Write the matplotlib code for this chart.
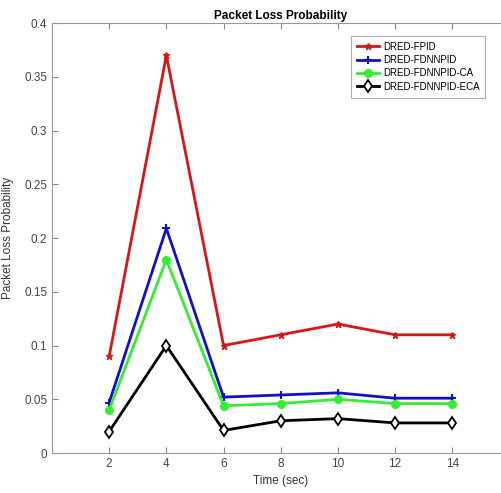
import matplotlib
matplotlib.use('Agg')
from matplotlib import pyplot as plt

time = [2, 4, 6, 8, 10, 12, 14]
fpid = [0.09, 0.37, 0.10, 0.11, 0.12, 0.11, 0.11]
fdnnpid = [0.047, 0.209, 0.052, 0.054, 0.056, 0.051, 0.051]
fdnnpid_ca = [0.040, 0.180, 0.044, 0.046, 0.050, 0.046, 0.046]
fdnnpid_eca = [0.020, 0.100, 0.021, 0.030, 0.032, 0.028, 0.028]

yticks = [0, 0.05, 0.1, 0.15, 0.2, 0.25, 0.3, 0.35, 0.4]
ytick_labels = ['0', '0.05', '0.1', '0.15', '0.2', '0.25', '0.3', '0.35', '0.4']

plt.rcParams['font.family'] = ['Liberation Sans', 'DejaVu Sans']

fig = plt.figure(figsize=(5.01, 4.93), dpi=100)
ax = fig.add_axes([0.1038, 0.0811, 0.913, 0.872])

ax.plot(time, fpid, color='#d91515', lw=2, marker='*', ms=5, label='DRED-FPID')
ax.plot(time, fdnnpid, color='#1010c8', lw=2, marker='+', ms=6, mew=1.5, label='DRED-FDNNPID')
ax.plot(time, fdnnpid_ca, color='#33ee33', lw=2, marker='o', ms=5.5, label='DRED-FDNNPID-CA')
ax.plot(time, fdnnpid_eca, color='black', lw=2, marker='d', ms=6, mfc='white',
        mew=1.3, label='DRED-FDNNPID-ECA')

ax.set_xlim(0, 16)
ax.set_ylim(0, 0.4)
ax.set_xticks(time)
ax.set_yticks(yticks)
ax.set_yticklabels(ytick_labels)
ax.tick_params(direction='in', top=True, right=True, length=4, color='#888888',
               labelcolor='#444444', labelsize=8.5)
for s in ax.spines.values():
    s.set_color('#999999')

ax.set_xlabel('Time (sec)', fontsize=8.5, color='#333333', labelpad=4)
ax.set_ylabel('Packet Loss Probability', fontsize=8.5, color='#333333', labelpad=7)
ax.set_title('Packet Loss Probability', fontsize=8.5, fontweight='bold', pad=3)

leg = ax.legend(loc='upper right', bbox_to_anchor=(0.958, 0.982), fontsize=7,
                fancybox=False, edgecolor='#999999', handlelength=2.3,
                borderpad=0.6, labelspacing=0.35, handletextpad=0.4)
leg.get_frame().set_linewidth(0.8)

fig.savefig('out.png', dpi=100)
